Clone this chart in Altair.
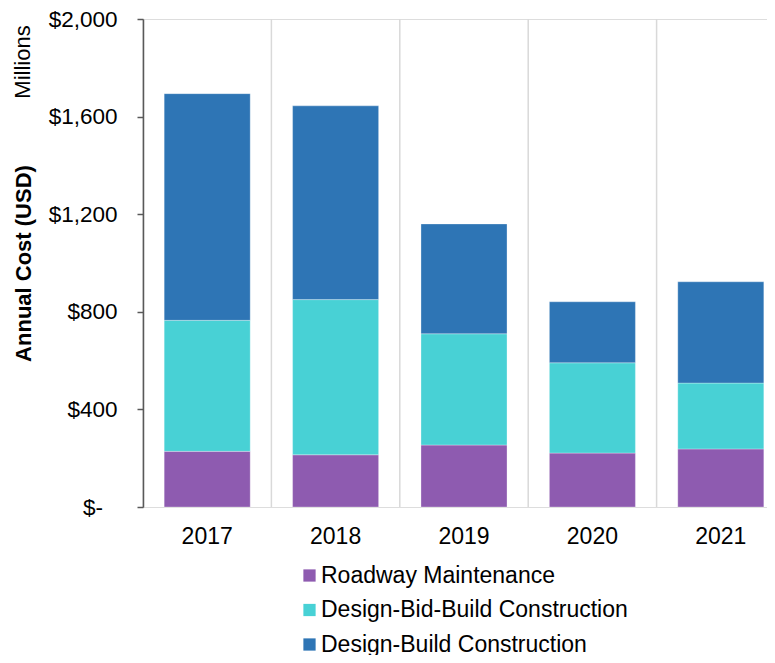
import altair as alt
import pandas as pd

years = ["2017", "2018", "2019", "2020", "2021"]
series = ["Roadway Maintenance", "Design-Bid-Build Construction", "Design-Build Construction"]
roadway = [228, 214, 254, 221, 238]
design_bid_build = [537, 636, 456, 370, 270]
design_build = [929, 794, 450, 250, 415]
colors = ["#8E5BB0", "#48D1D5", "#2E75B5"]
y_ticks = [0, 400, 800, 1200, 1600, 2000]

rows = []
for i, yr in enumerate(years):
    for k, (s, vals) in enumerate(zip(series, [roadway, design_bid_build, design_build])):
        rows.append({"year": yr, "series": s, "value": vals[i], "order": k})
df = pd.DataFrame(rows)

FONT = "Liberation Sans"

grid = alt.Chart(pd.DataFrame({"year": years})).mark_rule(color="#D9D9D9", strokeWidth=1.5).encode(
    x=alt.X("year:N", sort=years, bandPosition=0,
            scale=alt.Scale(range=[0, 642], paddingInner=0, paddingOuter=0), axis=None)
)

bars = alt.Chart(df).mark_bar(stroke="white", strokeWidth=0.6, strokeOpacity=0.5).encode(
    x=alt.X("year:N", sort=years,
            scale=alt.Scale(range=[0, 642], paddingInner=0.33, paddingOuter=0.165),
            axis=alt.Axis(title=None, labelAngle=0, domain=False, ticks=False, labelFontSize=23,
                          labelPadding=18, labelColor="#000000", labelFont=FONT)),
    y=alt.Y("value:Q", stack="zero",
            scale=alt.Scale(domain=[0, 2000], nice=False),
            axis=alt.Axis(values=y_ticks,
                          labelExpr="datum.value == 0 ? '$-\u2007\u200a\u200b' : '$' + format(datum.value, ',')",
                          title="Annual Cost (USD)", titleFontSize=22, titleFontWeight="bold",
                          titleColor="#000000", titleFont=FONT, titleX=-120, titleY=244,
                          titleBaseline="middle", titleAlign="center", titleAngle=270,
                          labelFontSize=22.5, labelColor="#000000", labelFont=FONT, labelPadding=20,
                          domainColor="#595959", domainWidth=1.5, tickColor="#595959", tickWidth=1.5,
                          tickSize=6, grid=False, zindex=1)),
    color=alt.Color("series:N", scale=alt.Scale(domain=series, range=colors),
                    legend=alt.Legend(orient="none", legendX=155, legendY=545, direction="vertical",
                                      title=None, symbolType="square", symbolSize=150,
                                      symbolStrokeWidth=0, labelFontSize=23, labelColor="#000000",
                                      labelFont=FONT, rowPadding=10.5, labelOffset=0, padding=0,
                                      labelLimit=0)),
    order=alt.Order("order:Q", sort="ascending"),
)

millions = alt.Chart(pd.DataFrame({"t": ["Millions"]})).mark_text(
    angle=270, fontSize=22, font=FONT, color="#000000", align="center", baseline="middle"
).encode(text="t:N", x=alt.value(-120), y=alt.value(43))

chart = alt.layer(grid, bars, millions).resolve_scale(x="independent").properties(
    width=624, height=488,
    autosize=alt.AutoSizeParams(type="none"),
    padding={"left": 135, "top": 11, "right": 0, "bottom": 148},
).configure_view(stroke=None).configure(font=FONT)

chart.save("out.html", embed_options={"renderer": "svg", "actions": False})
